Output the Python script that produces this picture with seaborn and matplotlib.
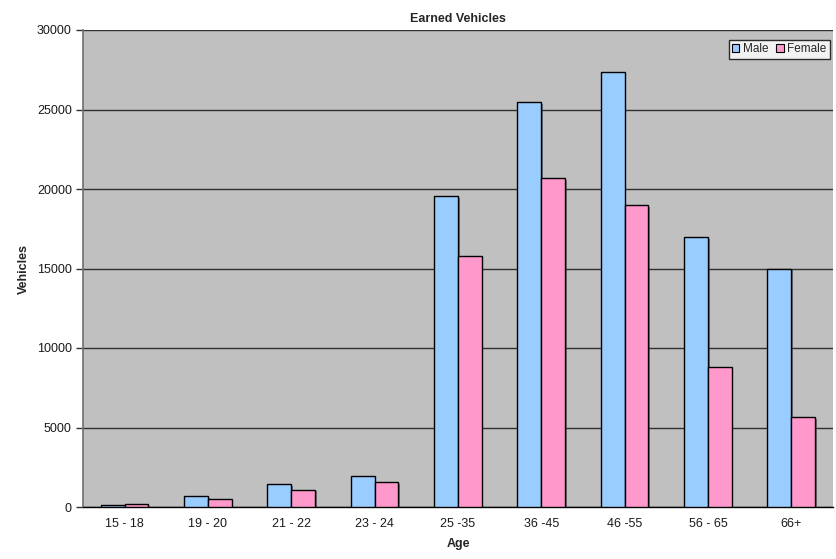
import matplotlib
matplotlib.use("Agg")
import matplotlib.pyplot as plt
import matplotlib.patheffects as pe
from matplotlib.ticker import FixedLocator
from matplotlib.patches import Patch
import seaborn as sns
import pandas as pd

# Age bands and earned vehicle counts by gender
age_bands = ["15 - 18", "19 - 20", "21 - 22", "23 - 24", "25 -35",
             "36 -45", "46 -55", "56 - 65", "66+"]
male = [110, 680, 1430, 1950, 19540, 25450, 27360, 16980, 14980]
female = [170, 500, 1090, 1570, 15770, 20670, 18970, 8800, 5660]
series = ["Male", "Female"]
colors = {"Male": "#99CCFF", "Female": "#FF99CC"}
y_ticks = [0, 5000, 10000, 15000, 20000, 25000, 30000]

df = pd.DataFrame({
    "Age": age_bands * 2,
    "Vehicles": male + female,
    "Gender": ["Male"] * len(age_bands) + ["Female"] * len(age_bands),
})

sns.set_style("white")
plt.rcParams["font.family"] = ["Liberation Sans", "DejaVu Sans"]

fig = plt.figure(figsize=(8.37, 5.59), dpi=100)
ax = fig.add_axes([83 / 837, 52 / 559, 750 / 837, 477 / 559])
ax.set_facecolor("#C0C0C0")

sns.barplot(data=df, x="Age", y="Vehicles", hue="Gender", order=age_bands,
            hue_order=series, palette=colors, width=0.572, gap=0,
            edgecolor="black", linewidth=1.0, legend=False, ax=ax,
            saturation=1, zorder=3)

for bar in ax.patches:
    bar.set_path_effects([pe.SimplePatchShadow(offset=(1.2, -1.2), shadow_rgbFace="#404040", alpha=0.6),
                          pe.Normal()])

ax.set_ylim(0, 30000)
ax.set_xlim(-0.5, len(age_bands) - 0.5)
ax.set_yticks(y_ticks)
ax.yaxis.grid(True, color="#303030", linewidth=1.0, zorder=1)
ax.set_axisbelow(True)

# category boundary ticks on the x axis
ax.xaxis.set_minor_locator(FixedLocator([i - 0.5 for i in range(len(age_bands) + 1)]))
ax.tick_params(axis="x", which="major", length=0, labelsize=9, pad=8, labelcolor="#1a1a1a")
ax.tick_params(axis="x", which="minor", length=5, width=1, color="#000000", direction="out")
ax.tick_params(axis="y", length=5, width=1, color="#303030", direction="out",
               labelsize=9, pad=3, left=True, labelcolor="#1a1a1a")

for side in ["top", "right"]:
    ax.spines[side].set_visible(False)
ax.spines["left"].set_color("#707070")
ax.spines["left"].set_linewidth(1.2)
ax.spines["bottom"].set_color("#000000")
ax.spines["bottom"].set_linewidth(1.0)

ax.set_title("Earned Vehicles", fontsize=9, fontweight="bold", pad=6)
ax.set_xlabel("Age", fontsize=9, fontweight="bold", labelpad=6)
ax.set_ylabel("Vehicles", fontsize=9, fontweight="bold", labelpad=5)

handles = [Patch(facecolor=colors[s], edgecolor="black", linewidth=0.8, label=s) for s in series]
leg = ax.legend(handles=handles, loc="upper right", ncol=2, fontsize=8.5,
                frameon=True, fancybox=False, edgecolor="black",
                handlelength=0.6, handleheight=0.6, handletextpad=0.3,
                columnspacing=0.7, borderpad=0.3, borderaxespad=0.2,
                bbox_to_anchor=(0.999, 0.985))
leg.get_frame().set_linewidth(1.0)
leg.get_frame().set_facecolor("white")

fig.savefig("out.png", dpi=100)
